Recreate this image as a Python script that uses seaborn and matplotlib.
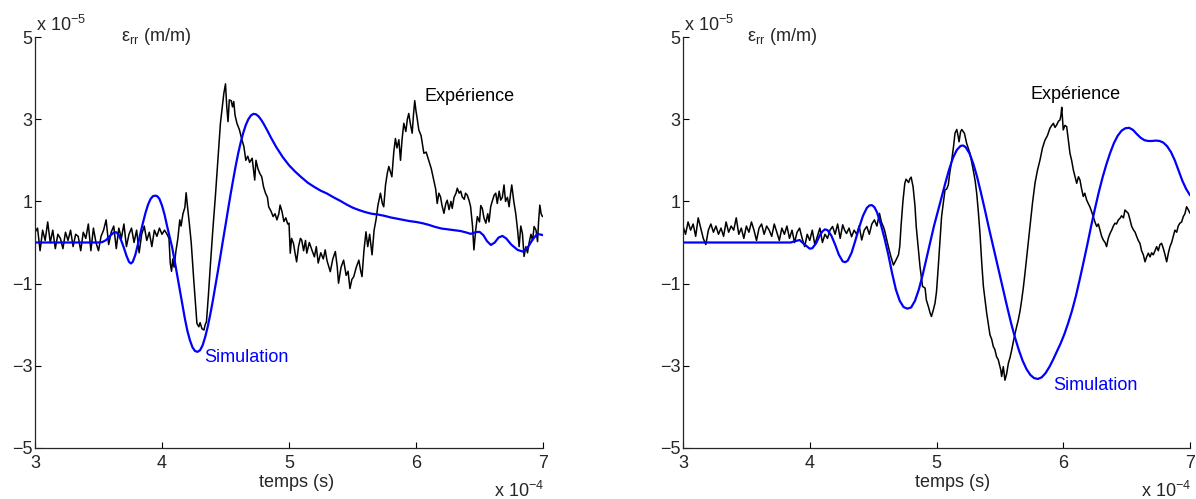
import numpy as np
import matplotlib
matplotlib.use("Agg")
import matplotlib.pyplot as plt
import seaborn as sns

# time in units of 1e-4 s, strain in units of 1e-5 m/m
x_ticks = [3, 4, 5, 6, 7]
y_ticks = [-5, -3, -1, 1, 3, 5]

# ---- left panel: simulation (blue), (t, value)
sim1_pts = [(3.0, 0), (3.5, 0), (3.53, 0.01), (3.56, 0.06), (3.59, 0.16), (3.62, 0.24), (3.64, 0.25),
            (3.66, 0.18), (3.68, 0.04), (3.7, -0.13), (3.72, -0.32), (3.74, -0.47), (3.755, -0.51),
            (3.77, -0.47), (3.79, -0.3), (3.81, -0.05), (3.83, 0.22), (3.85, 0.48), (3.87, 0.72),
            (3.89, 0.92), (3.91, 1.06), (3.93, 1.13), (3.95, 1.14), (3.965, 1.12), (3.98, 1.06),
            (4.0, 0.9), (4.02, 0.68), (4.04, 0.4), (4.06, 0.14), (4.08, -0.12), (4.1, -0.45),
            (4.12, -0.8), (4.14, -1.15), (4.16, -1.5), (4.18, -1.85), (4.2, -2.15), (4.22, -2.38),
            (4.24, -2.55), (4.26, -2.64), (4.28, -2.66), (4.3, -2.62), (4.32, -2.5), (4.34, -2.3),
            (4.36, -2.05), (4.38, -1.75), (4.4, -1.42), (4.42, -1.06), (4.44, -0.7), (4.46, -0.33),
            (4.48, 0.05), (4.5, 0.42), (4.52, 0.8), (4.54, 1.17), (4.56, 1.52), (4.58, 1.86),
            (4.6, 2.17), (4.62, 2.44), (4.64, 2.67), (4.66, 2.86), (4.68, 3.0), (4.7, 3.09),
            (4.72, 3.13), (4.74, 3.12), (4.76, 3.07), (4.78, 2.99), (4.8, 2.89), (4.83, 2.72),
            (4.86, 2.54), (4.9, 2.32), (4.95, 2.08), (5.0, 1.88), (5.05, 1.72), (5.1, 1.58),
            (5.15, 1.45), (5.2, 1.35), (5.25, 1.26), (5.3, 1.19), (5.35, 1.1), (5.4, 1.02),
            (5.45, 0.93), (5.5, 0.85), (5.55, 0.79), (5.6, 0.74), (5.65, 0.7), (5.7, 0.68),
            (5.75, 0.65), (5.8, 0.61), (5.85, 0.58), (5.9, 0.55), (5.95, 0.52), (6.0, 0.5),
            (6.05, 0.47), (6.1, 0.43), (6.15, 0.38), (6.2, 0.34), (6.25, 0.32), (6.3, 0.3),
            (6.35, 0.28), (6.4, 0.24), (6.43, 0.21), (6.47, 0.25), (6.5, 0.26), (6.53, 0.18),
            (6.56, 0.03), (6.59, -0.06), (6.62, 0.0), (6.65, 0.12), (6.68, 0.16), (6.71, 0.1),
            (6.75, -0.05), (6.8, -0.18), (6.84, -0.22), (6.88, -0.12), (6.92, 0.08), (6.955, 0.21),
            (7.0, 0.18)]

# ---- left panel: experiment (black), flat part 3.00-4.00 step 0.02
exp1_base = [0.25, 0.35, -0.2, 0.3, 0.05, 0.5, 0.0, 0.3, -0.15, 0.2,
             0.1, -0.15, 0.25, 0.05, 0.3, -0.1, 0.2, 0.15, -0.2, 0.25,
             0.1, 0.45, -0.2, 0.35, 0.0, -0.2, 0.15, 0.3, 0.55, -0.05,
             0.25, 0.4, -0.15, 0.35, 0.1, 0.45, -0.1, 0.2, 0.35, 0.0,
             0.3, -0.25, 0.2, 0.4, 0.05, 0.25, -0.1, 0.3, 0.15, 0.35, 0.2]
# then (t, value) pairs
exp1_pts = [(4.02, 0.3), (4.04, 0.2), (4.055, 0.1), (4.065, -0.5), (4.075, -0.7), (4.085, -0.4),
            (4.095, -0.6), (4.11, -0.2), (4.125, 0.1), (4.14, 0.55), (4.15, 0.4), (4.165, 0.7),
            (4.18, 0.85), (4.19, 1.21), (4.2, 0.9), (4.215, 0.47), (4.23, 0.0), (4.25, -0.91),
            (4.275, -1.97), (4.29, -2.05), (4.3, -1.95), (4.315, -2.1), (4.33, -2.13), (4.34, -2.0),
            (4.35, -1.93), (4.365, -1.3), (4.38, -0.59), (4.4, 0.3), (4.42, 1.11), (4.44, 2.0),
            (4.46, 2.9), (4.475, 3.3), (4.487, 3.63), (4.5, 3.86), (4.51, 3.3), (4.52, 2.94),
            (4.53, 3.47), (4.545, 3.45), (4.555, 3.3), (4.565, 3.43), (4.575, 3.1), (4.59, 2.9),
            (4.61, 2.74), (4.625, 2.55), (4.645, 2.33), (4.66, 2.0), (4.675, 2.1), (4.69, 1.95),
            (4.71, 2.05), (4.73, 1.52), (4.74, 2.0), (4.755, 1.8), (4.77, 1.68), (4.785, 1.6),
            (4.8, 1.35), (4.815, 1.2), (4.83, 1.1), (4.84, 0.87), (4.86, 0.75), (4.875, 0.63),
            (4.89, 0.7), (4.905, 0.55), (4.92, 0.7), (4.93, 0.91), (4.945, 0.75), (4.96, 0.51),
            (4.975, 0.6), (4.99, 0.45), (5.0, 0.47), (5.01, -0.26), (5.02, 0.1), (5.035, -0.02),
            (5.05, -0.3), (5.06, -0.47), (5.075, -0.1), (5.09, 0.1), (5.1, 0.06), (5.115, -0.2),
            (5.13, 0.05), (5.14, -0.26), (5.16, 0.0), (5.18, -0.18), (5.2, -0.35), (5.215, -0.1),
            (5.23, -0.5), (5.25, -0.25), (5.27, -0.4), (5.285, -0.18), (5.3, -0.45), (5.325, -0.71),
            (5.345, -0.4), (5.365, -0.22), (5.38, -0.6), (5.39, -0.99), (5.41, -0.6), (5.43, -0.43),
            (5.45, -0.8), (5.465, -0.7), (5.48, -1.12), (5.495, -0.9), (5.51, -0.83), (5.53, -0.6),
            (5.55, -0.43), (5.565, -0.7), (5.575, -0.83), (5.59, -0.2), (5.606, 0.26), (5.62, -0.1),
            (5.635, 0.2), (5.654, -0.3), (5.67, 0.3), (5.685, 0.55), (5.7, 0.9), (5.72, 1.2),
            (5.735, 0.95), (5.746, 0.87), (5.76, 1.4), (5.775, 1.7), (5.786, 1.85), (5.8, 1.7),
            (5.81, 1.6), (5.825, 2.2), (5.838, 2.53), (5.85, 2.3), (5.865, 2.5), (5.878, 2.0),
            (5.89, 2.5), (5.904, 2.9), (5.92, 2.7), (5.932, 3.0), (5.943, 3.14), (5.955, 2.9),
            (5.97, 2.66), (5.98, 3.1), (5.99, 3.45), (6.0, 3.2), (6.01, 3.0), (6.022, 2.74),
            (6.04, 2.6), (6.062, 2.17), (6.08, 2.2), (6.1, 2.0), (6.12, 1.8), (6.14, 1.52),
            (6.155, 1.3), (6.167, 0.95), (6.18, 1.2), (6.193, 1.11), (6.205, 0.9), (6.22, 0.71),
            (6.235, 0.95), (6.246, 1.03), (6.26, 0.8), (6.275, 1.0), (6.285, 0.83), (6.3, 1.1),
            (6.315, 1.2), (6.325, 1.32), (6.34, 1.2), (6.352, 1.25), (6.364, 1.11), (6.38, 1.05),
            (6.39, 1.2), (6.404, 1.15), (6.42, 1.0), (6.43, 0.87), (6.445, 0.4), (6.456, -0.18),
            (6.47, 0.3), (6.483, 0.63), (6.5, 0.5), (6.51, 0.9), (6.522, 0.83), (6.535, 0.6),
            (6.55, 0.47), (6.565, 0.7), (6.575, 0.5), (6.588, 0.87), (6.6, 1.0), (6.615, 1.15),
            (6.628, 1.2), (6.64, 0.95), (6.655, 1.25), (6.667, 1.03), (6.68, 1.1), (6.693, 1.4),
            (6.705, 1.0), (6.72, 1.1), (6.733, 0.87), (6.745, 1.2), (6.754, 1.4), (6.77, 1.0),
            (6.785, 0.71), (6.8, 0.3), (6.812, -0.1), (6.825, 0.4), (6.838, 0.22), (6.851, -0.34),
            (6.865, -0.1), (6.878, -0.25), (6.89, -0.02), (6.905, 0.2), (6.918, 0.05), (6.93, 0.39),
            (6.945, 0.3), (6.957, 0.02), (6.965, 0.5), (6.975, 0.91), (6.985, 0.7), (6.996, 0.63)]

# ---- right panel: simulation (blue)
sim2_pts = [(3.0, 0), (3.85, 0), (3.88, 0.03), (3.92, 0.06), (3.96, -0.05), (4.0, -0.15),
            (4.02, -0.14), (4.05, -0.02), (4.08, 0.18), (4.1, 0.27), (4.12, 0.32), (4.14, 0.3),
            (4.17, 0.17), (4.2, -0.05), (4.23, -0.3), (4.26, -0.46), (4.28, -0.48), (4.3, -0.44),
            (4.33, -0.25), (4.36, 0.05), (4.39, 0.37), (4.42, 0.65), (4.45, 0.84), (4.47, 0.9),
            (4.49, 0.91), (4.51, 0.86), (4.53, 0.74), (4.56, 0.45), (4.59, 0.1), (4.62, -0.3),
            (4.65, -0.75), (4.68, -1.15), (4.71, -1.42), (4.74, -1.57), (4.77, -1.61), (4.8, -1.58),
            (4.83, -1.42), (4.86, -1.15), (4.89, -0.8), (4.92, -0.4), (4.95, 0.0), (4.98, 0.4),
            (5.01, 0.75), (5.04, 1.1), (5.07, 1.45), (5.1, 1.78), (5.13, 2.06), (5.16, 2.25),
            (5.19, 2.35), (5.21, 2.36), (5.23, 2.32), (5.26, 2.17), (5.29, 1.92), (5.32, 1.6),
            (5.35, 1.22), (5.38, 0.82), (5.41, 0.4), (5.44, 0.0), (5.47, -0.4), (5.5, -0.8),
            (5.53, -1.2), (5.56, -1.6), (5.59, -1.98), (5.62, -2.32), (5.65, -2.62), (5.68, -2.88),
            (5.71, -3.08), (5.74, -3.22), (5.77, -3.3), (5.8, -3.32), (5.83, -3.28), (5.86, -3.18),
            (5.89, -3.03), (5.92, -2.85), (5.95, -2.65), (5.98, -2.45), (6.01, -2.22), (6.04, -1.95),
            (6.07, -1.65), (6.1, -1.3), (6.13, -0.9), (6.16, -0.48), (6.19, -0.05), (6.22, 0.4),
            (6.25, 0.82), (6.28, 1.22), (6.31, 1.58), (6.34, 1.9), (6.37, 2.18), (6.4, 2.42),
            (6.43, 2.6), (6.46, 2.72), (6.49, 2.78), (6.52, 2.79), (6.55, 2.74), (6.58, 2.64),
            (6.61, 2.55), (6.64, 2.49), (6.67, 2.47), (6.7, 2.47), (6.73, 2.48), (6.76, 2.47),
            (6.79, 2.43), (6.82, 2.34), (6.85, 2.2), (6.88, 2.0), (6.91, 1.75), (6.94, 1.5),
            (6.97, 1.3), (7.0, 1.15)]

# ---- right panel: experiment (black), flat part 3.00-4.16 step 0.02
exp2_base = [0.4, 0.2, 0.5, 0.3, 0.45, 0.15, 0.6, 0.35, 0.1, -0.05,
             0.3, 0.45, 0.25, 0.4, 0.2, 0.35, 0.15, 0.5, 0.25, 0.4,
             0.3, 0.6, 0.2, 0.35, 0.1, 0.4, 0.25, 0.5, 0.3, 0.05,
             0.35, 0.45, 0.2, 0.4, 0.3, 0.15, 0.45, 0.25, 0.05, 0.35,
             0.2, 0.4, 0.1, 0.3, 0.0, 0.25, 0.35, 0.1, -0.1, 0.2,
             0.05, 0.3, -0.05, 0.15, 0.35, 0.0, 0.2, 0.1, 0.3]
exp2_pts = [(4.18, 0.39), (4.2, 0.2), (4.22, 0.45), (4.24, 0.1), (4.26, 0.43), (4.275, 0.3),
            (4.29, 0.22), (4.31, 0.35), (4.33, 0.14), (4.35, 0.3), (4.37, 0.2), (4.39, 0.4),
            (4.41, 0.06), (4.43, 0.3), (4.45, 0.39), (4.47, 0.2), (4.49, 0.45), (4.51, 0.55),
            (4.53, 0.4), (4.55, 0.71), (4.565, 0.5), (4.58, 0.39), (4.59, 0.3), (4.605, 0.1),
            (4.62, -0.1), (4.64, -0.34), (4.66, -0.55), (4.68, -0.43), (4.7, -0.3), (4.71, -0.1),
            (4.72, 0.39), (4.735, 1.0), (4.75, 1.44), (4.76, 1.54), (4.77, 1.5), (4.78, 1.46),
            (4.79, 1.55), (4.8, 1.59), (4.815, 1.36), (4.83, 0.9), (4.84, 0.39), (4.855, -0.1),
            (4.87, -0.59), (4.89, -1.07), (4.91, -1.11), (4.92, -1.4), (4.935, -1.55), (4.95, -1.72),
            (4.96, -1.8), (4.975, -1.64), (4.988, -1.48), (5.0, -1.2), (5.014, -0.59), (5.04, 0.63),
            (5.055, 1.0), (5.067, 1.28), (5.08, 1.3), (5.093, 1.4), (5.105, 1.7), (5.12, 2.0),
            (5.135, 2.35), (5.146, 2.66), (5.16, 2.75), (5.17, 2.6), (5.178, 2.45), (5.19, 2.7),
            (5.2, 2.75), (5.21, 2.7), (5.22, 2.66), (5.238, 2.41), (5.25, 2.3), (5.264, 2.17),
            (5.278, 1.95), (5.29, 1.76), (5.305, 1.5), (5.317, 1.2), (5.33, 0.75), (5.343, 0.22),
            (5.357, -0.5), (5.37, -1.07), (5.383, -1.4), (5.396, -1.72), (5.41, -2.0), (5.422, -2.25),
            (5.435, -2.35), (5.448, -2.53), (5.46, -2.6), (5.474, -2.78), (5.487, -2.85), (5.5, -3.02),
            (5.507, -3.1), (5.514, -3.26), (5.527, -3.02), (5.54, -3.35), (5.553, -3.2), (5.567, -2.94),
            (5.58, -2.8), (5.593, -2.62), (5.607, -2.4), (5.62, -2.21), (5.632, -2.05), (5.645, -1.89),
            (5.66, -1.65), (5.672, -1.4), (5.685, -1.1), (5.698, -0.75), (5.717, -0.2), (5.737, 0.39),
            (5.757, 0.95), (5.777, 1.44), (5.796, 1.75), (5.816, 2.0), (5.836, 2.3), (5.856, 2.49),
            (5.875, 2.6), (5.895, 2.78), (5.91, 2.85), (5.922, 2.9), (5.935, 2.8), (5.948, 2.86),
            (5.962, 2.95), (5.974, 2.98), (5.982, 3.1), (5.988, 3.29), (5.994, 3.0), (6.0, 2.74),
            (6.013, 2.85), (6.027, 2.82), (6.04, 2.5), (6.053, 2.17), (6.066, 2.0), (6.08, 1.76),
            (6.093, 1.6), (6.106, 1.44), (6.12, 1.6), (6.132, 1.52), (6.145, 1.3), (6.158, 1.12),
            (6.17, 1.2), (6.185, 1.03), (6.197, 0.95), (6.21, 0.87), (6.224, 0.75), (6.237, 0.63),
            (6.25, 0.5), (6.264, 0.39), (6.277, 0.45), (6.29, 0.3), (6.303, 0.15), (6.316, 0.06),
            (6.33, 0.0), (6.342, -0.1), (6.355, 0.1), (6.369, 0.22), (6.382, 0.3), (6.395, 0.4),
            (6.408, 0.47), (6.42, 0.45), (6.435, 0.55), (6.448, 0.59), (6.46, 0.65), (6.475, 0.6),
            (6.487, 0.79), (6.5, 0.75), (6.513, 0.71), (6.527, 0.55), (6.54, 0.39), (6.555, 0.3),
            (6.567, 0.25), (6.58, 0.14), (6.592, 0.05), (6.605, -0.02), (6.618, -0.2), (6.632, -0.3),
            (6.645, -0.47), (6.658, -0.35), (6.671, -0.26), (6.685, -0.35), (6.697, -0.25), (6.71, -0.3),
            (6.724, -0.2), (6.737, -0.1), (6.75, -0.2), (6.763, -0.05), (6.776, -0.02), (6.79, -0.15),
            (6.803, -0.3), (6.816, -0.47), (6.83, -0.25), (6.842, -0.1), (6.855, 0.0), (6.868, 0.15),
            (6.881, 0.3), (6.895, 0.25), (6.907, 0.4), (6.92, 0.47), (6.934, 0.5), (6.947, 0.63),
            (6.96, 0.7), (6.973, 0.87), (6.986, 0.8), (7.0, 0.71)]


def build_exp(base, t_end, pts):
    t = list(np.linspace(3.0, t_end, len(base))) + [p[0] for p in pts]
    y = list(base) + [p[1] for p in pts]
    return np.array(t), np.array(y)


def split(pts):
    return np.array([p[0] for p in pts]), np.array([p[1] for p in pts])


sns.set_style("ticks")
plt.rcParams['font.family'] = ['Liberation Sans', 'DejaVu Sans']
plt.rcParams['mathtext.fontset'] = 'custom'
plt.rcParams['mathtext.rm'] = 'Liberation Sans'
plt.rcParams['mathtext.it'] = 'Liberation Sans'
plt.rcParams['axes.linewidth'] = 0.9

fig = plt.figure(figsize=(11.96, 4.99), dpi=100)
W, H = 1196, 499
ax1 = fig.add_axes([35 / W, 1 - 448 / H, 508 / W, 411 / H])
ax2 = fig.add_axes([683 / W, 1 - 448 / H, 507 / W, 411 / H])

panels = [
    (ax1, split(sim1_pts), build_exp(exp1_base, 4.0, exp1_pts), (6.07, 3.56), (4.33, -2.8), 0.169, 0.515),
    (ax2, split(sim2_pts), build_exp(exp2_base, 4.16, exp2_pts), (5.745, 3.6), (5.92, -3.48), 0.126, 0.532),
]

for ax, (sim_t, sim_y), (exp_t, exp_y), exp_xy, sim_xy, eps_x, xlab_x in panels:
    sns.lineplot(x=exp_t, y=exp_y, ax=ax, color='black', linewidth=1.1, sort=False)
    sns.lineplot(x=sim_t, y=sim_y, ax=ax, color='#0000ff', linewidth=1.6, sort=False)

    ax.set_xlim(3, 7)
    ax.set_ylim(-5, 5)
    ax.set_xticks(x_ticks)
    ax.set_yticks(y_ticks)
    ax.tick_params(direction='in', length=4, width=0.8, labelsize=13, color='black')
    ax.tick_params(axis='x', pad=5)
    ax.tick_params(axis='y', pad=2)
    sns.despine(ax=ax)
    ax.set_xlabel('')
    ax.set_ylabel('')

    ax.text(exp_xy[0], exp_xy[1], 'Expérience', fontsize=13, color='black', va='center', ha='left')
    ax.text(sim_xy[0], sim_xy[1], 'Simulation', fontsize=13, color='#0000ff', va='center', ha='left')
    ax.text(0.002, 1.015, r'x 10$^{-5}$', transform=ax.transAxes, fontsize=13, va='baseline', ha='left')
    ax.text(eps_x, 0.99, r'ε$_{\mathrm{rr}}$ (m/m)', transform=ax.transAxes, fontsize=13,
            va='baseline', ha='left')
    ax.text(xlab_x, -0.095, 'temps (s)', transform=ax.transAxes, fontsize=13, va='baseline', ha='center')
    ax.text(1.003, -0.119, r'x 10$^{-4}$', transform=ax.transAxes, fontsize=13, va='baseline', ha='right')

fig.savefig('out.png', dpi=100)
